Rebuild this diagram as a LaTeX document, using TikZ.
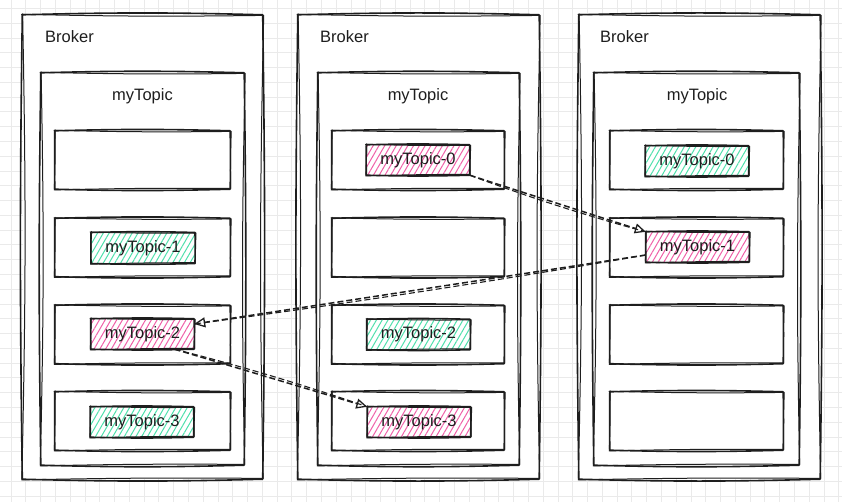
\documentclass[tikz,border=0pt]{standalone}
\usepackage{fontspec}
\setmainfont{Liberation Sans}
\usetikzlibrary{calc,arrows.meta,patterns.meta}
\definecolor{gridc}{HTML}{EAEAEA}
\definecolor{hgreen}{HTML}{4FE0AC}
\definecolor{hpink}{HTML}{F060A8}
\definecolor{ink}{HTML}{1E1E1E}
\newcommand\mysketchbox[1]{%
 \draw[skA] (#1.north west) to[bend left=1.5] (#1.north east) to[bend left=0.8] (#1.south east) to[bend left=1.5] (#1.south west) to[bend left=0.8] (#1.north west);
 \draw[skB] ([shift={(-0.8pt,0.5pt)}]#1.north west) to[bend right=1] ([shift={(1pt,-0.6pt)}]#1.north east) to[bend right=1.2] ([shift={(0.4pt,0.8pt)}]#1.south east) to[bend right=0.8] ([shift={(-0.5pt,-0.7pt)}]#1.south west) to[bend right=1.2] ([shift={(0.3pt,1pt)}]#1.north west);
}
\begin{document}
\begin{tikzpicture}[x=1pt,y=-1pt,
  every node/.style={font=\fontsize{16.5}{20}\selectfont, text=ink},
  skA/.style={draw=ink, line width=1.6pt, line join=round, line cap=round},
  skB/.style={draw=ink, line width=1pt, line join=round, line cap=round},
  boxn/.style={draw=none, fill=white, inner sep=0pt},
  brokern/.style={boxn, minimum width=240pt, minimum height=464pt},
  topicn/.style={boxn, minimum width=203pt, minimum height=392pt},
  slotn/.style={boxn, minimum width=174pt, minimum height=58pt},
  labn/.style={inner sep=0pt, minimum width=103pt, minimum height=30pt},
  hgr/.style={labn, pattern={Lines[angle=60,distance=5pt,line width=1pt]}, pattern color=hgreen},
  hpk/.style={labn, pattern={Lines[angle=60,distance=5pt,line width=1pt]}, pattern color=hpink},
  conn/.style={draw=ink, line width=1.5pt, dash pattern=on 6pt off 3pt, -{Triangle[open,length=11pt,width=10pt,line width=1.3pt]}},
  conn2/.style={draw=ink, line width=1.1pt, dash pattern=on 6pt off 3pt}
]
\useasboundingbox (0,0) rectangle (842,502);
\fill[white] (0,0) rectangle (842,502);
\foreach \i in {0,...,56} \draw[gridc,line width=0.7pt] ({11+\i*14.78},0) -- ({11+\i*14.78},502);
\foreach \j in {0,...,33} \draw[gridc,line width=0.7pt] (0,{8.3+\j*14.78}) -- (842,{8.3+\j*14.78});

% brokers
\node[brokern] (b1) at (142.5,247) {};
\node[brokern, minimum width=241pt] (b2) at (418.5,247) {};
\node[brokern, minimum width=241pt] (b3) at (699.5,247) {};
\mysketchbox{b1}\mysketchbox{b2}\mysketchbox{b3}
\node[anchor=west, inner sep=0pt] (t1) at (45,37) {Broker};
\node[anchor=west, inner sep=0pt] (t2) at (320,37) {Broker};
\node[anchor=west, inner sep=0pt] (t3) at (600,37) {Broker};

% topics
\node[topicn] (k1) at (142.5,269) {};
\node[topicn, minimum width=201pt] (k2) at (418.5,269) {};
\node[topicn, minimum width=205pt] (k3) at (696.5,269) {};
\mysketchbox{k1}\mysketchbox{k2}\mysketchbox{k3}
\node[inner sep=0pt] (m1) at (142.5,96) {myTopic};
\node[inner sep=0pt] (m2) at (418,96) {myTopic};
\node[inner sep=0pt] (m3) at (697,96) {myTopic};

% slots
\foreach \b/\x/\w in {1/142.5/175, 2/418/172, 3/696.5/173}{
  \node[slotn, minimum width=\w pt] (s\b a) at (\x,160) {};
  \node[slotn, minimum width=\w pt] (s\b b) at (\x,247.5) {};
  \node[slotn, minimum width=\w pt] (s\b c) at (\x,334.5) {};
  \node[slotn, minimum width=\w pt] (s\b d) at (\x,421) {};
  \mysketchbox{s\b a}\mysketchbox{s\b b}\mysketchbox{s\b c}\mysketchbox{s\b d}
}

% partitions
\node[hgr] (b1p1) at (143,248) {myTopic-1};
\node[hpk] (b1p2) at (142.5,334) {myTopic-2};
\node[hgr] (b1p3) at (142,422) {myTopic-3};
\node[hpk] (b2p0) at (418,160) {myTopic-0};
\node[hgr] (b2p2) at (418.5,334.5) {myTopic-2};
\node[hpk] (b2p3) at (419,422) {myTopic-3};
\node[hgr] (b3p0) at (697,161) {myTopic-0};
\node[hpk] (b3p1) at (697.5,247) {myTopic-1};
\foreach \n in {b1p1,b1p2,b1p3,b2p0,b2p2,b2p3,b3p0,b3p1}{\mysketchbox{\n}}

% connectors
\coordinate (a1s) at (b2p0.south east);
\coordinate (a1e) at (b3p1.north west);
\coordinate (a2s) at ($(b3p1.west)+(0,8)$);
\coordinate (a2e) at ($(b1p2.east)+(0,-10)$);
\coordinate (a3s) at ($(b1p2.south)+(32,0)$);
\coordinate (a3e) at (b2p3.north west);
\draw[conn] (a1s) -- (a1e);
\draw[conn2] (a1s) .. controls ($(a1s)!0.33!(a1e)+(0,3)$) and ($(a1s)!0.66!(a1e)+(0,3)$) .. (a1e);
\draw[conn] (a2s) -- (a2e);
\draw[conn2] (a2s) .. controls ($(a2s)!0.33!(a2e)+(0,3)$) and ($(a2s)!0.66!(a2e)+(0,3)$) .. (a2e);
\draw[conn] (a3s) -- (a3e);
\draw[conn2] (a3s) .. controls ($(a3s)!0.33!(a3e)+(0,-3)$) and ($(a3s)!0.66!(a3e)+(0,-3)$) .. (a3e);
\end{tikzpicture}
\end{document}
